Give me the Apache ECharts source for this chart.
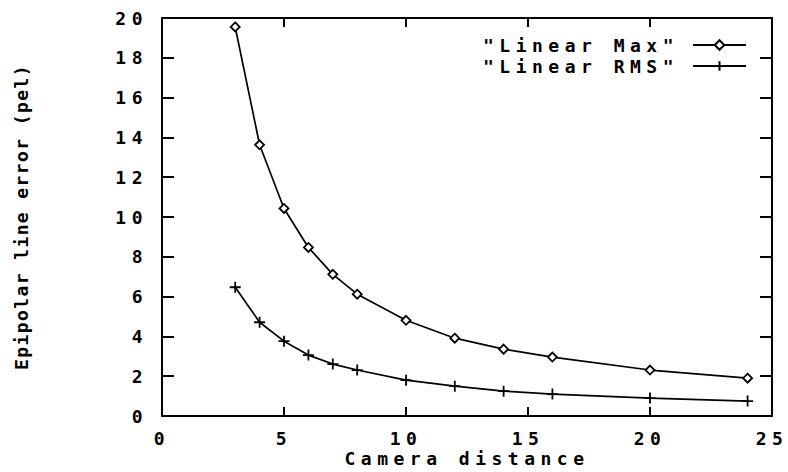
<!DOCTYPE html>
<html><head><meta charset="utf-8">
<script src="https://cdn.jsdelivr.net/npm/echarts@6/dist/echarts.min.js"></script>
<style>html,body{margin:0;padding:0;background:#fff}#c{width:788px;height:472px}</style>
</head><body><div id="c"></div>
<script>
const distances = [3, 4, 5, 6, 7, 8, 10, 12, 14, 16, 20, 24];
const linearMax = [19.55, 13.63, 10.43, 8.47, 7.12, 6.12, 4.81, 3.91, 3.36, 2.96, 2.31, 1.9];
const linearRms = [6.47, 4.71, 3.76, 3.06, 2.61, 2.31, 1.8, 1.5, 1.25, 1.1, 0.9, 0.75];
const seriesNames = ['"Linear Max"', '"Linear RMS"'];
const xTitle = 'Camera distance';
const yTitle = 'Epipolar line error (pel)';

const FONT = 'DejaVu Sans Mono';
const txt = {fontFamily: FONT, fontSize: 18, fontWeight: 'bold', color: '#000'};
const axLine = {show: true, onZero: false, lineStyle: {color: '#000', width: 2}};

function xAx(pos, main) {
  return {
    type: 'value', position: pos, min: 0, max: 25, interval: 5,
    axisLine: axLine,
    axisTick: {show: true, inside: true, length: 9, lineStyle: {color: '#000', width: 2}},
    axisLabel: main ? Object.assign({margin: 13}, txt) : {show: false},
    splitLine: {show: false},
    name: main ? xTitle : '', nameLocation: 'middle', nameGap: 33,
    nameTextStyle: txt, nameMoveOverlap: false
  };
}
function yAx(pos, main) {
  return {
    type: 'value', position: pos, min: 0, max: 20, interval: 2,
    axisLine: axLine,
    axisTick: {show: true, inside: true, length: 12, lineStyle: {color: '#000', width: 2}},
    axisLabel: main ? Object.assign({margin: 14}, txt) : {show: false},
    splitLine: {show: false},
    name: main ? yTitle : '', nameLocation: 'middle', nameGap: 132,
    nameTextStyle: txt, nameMoveOverlap: false
  };
}

const chart = echarts.init(document.getElementById('c'), null, {renderer: 'svg'});
chart.setOption({
  animation: false,
  backgroundColor: '#fff',
  grid: {left: 162, right: 16, top: 18, bottom: 55, containLabel: false},
  xAxis: [xAx('bottom', true), xAx('top', false)],
  yAxis: [yAx('left', true), yAx('right', false)],
  legend: {
    orient: 'vertical', align: 'right', right: 36, top: 31,
    itemWidth: 53, itemHeight: 12, itemGap: 3,
    textStyle: Object.assign({lineHeight: 18, padding: [0, 9, 0, 0]}, txt),
    data: seriesNames
  },
  series: [
    {
      name: seriesNames[0], type: 'line',
      data: distances.map((d, i) => [d, linearMax[i]]),
      symbol: 'diamond', symbolSize: 9,
      lineStyle: {color: '#000', width: 1.7},
      itemStyle: {color: '#fff', borderColor: '#000', borderWidth: 1.8}
    },
    {
      name: seriesNames[1], type: 'line',
      data: distances.map((d, i) => [d, linearRms[i]]),
      symbol: 'path://M0,5L10,5M5,0L5,10', symbolSize: 11,
      lineStyle: {color: '#000', width: 1.7},
      itemStyle: {color: '#000', borderColor: '#000', borderWidth: 1.8}
    }
  ]
});

function spaceText() {
  document.querySelectorAll('#c svg text').forEach(t => {
    const s = t.textContent;
    let ls = 5.5;
    if (s.indexOf('Epipolar') >= 0) ls = 1.4;
    t.style.letterSpacing = ls + 'px';
  });
}
spaceText();
chart.on('finished', spaceText);
</script>
</body></html>
